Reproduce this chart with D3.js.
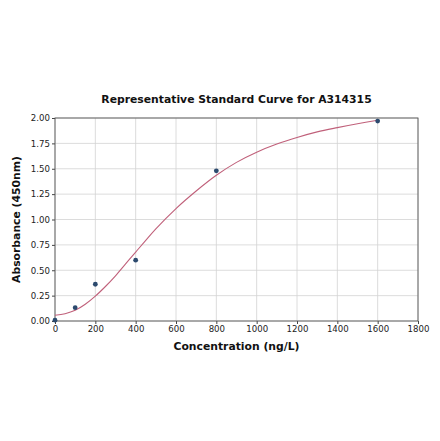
<!DOCTYPE html>
<html>
<head>
<meta charset="utf-8">
<script src="https://cdn.jsdelivr.net/npm/d3@7/dist/d3.min.js"></script>
<style>
  body { margin: 0; background: #fff; }
  svg { display: block; }
</style>
</head>
<body>
<svg id="chart" width="440" height="441"></svg>
<script>
// standard points (concentration, OD)
var stdConc = [0, 100, 200, 400, 800, 1600];
var stdOD   = [0.008, 0.131, 0.362, 0.599, 1.48, 1.97];

// fitted curve
var fitConc = [0, 50, 100, 150, 200, 250, 300, 350, 400, 450, 500, 600, 700, 800, 900, 1000, 1100, 1200, 1300, 1400, 1500, 1600];
var fitOD   = [0.057, 0.072, 0.105, 0.165, 0.245, 0.34, 0.445, 0.562, 0.679, 0.795, 0.908, 1.108, 1.281, 1.436, 1.563, 1.663, 1.743, 1.808, 1.863, 1.905, 1.943, 1.978];

var xTicks = [0, 200, 400, 600, 800, 1000, 1200, 1400, 1600, 1800];
var yTicks = [0, 0.25, 0.5, 0.75, 1.0, 1.25, 1.5, 1.75, 2.0];

var titleText = "Representative Standard Curve for A314315";
var xLabel = "Concentration (ng/L)";
var yLabel = "Absorbance (450nm)";

var svg = d3.select("#chart");
var pLeft = 55, pRight = 418, pTop = 118, pBottom = 321;
var font = "'DejaVu Sans', sans-serif";

var x = d3.scaleLinear().domain([0, 1800]).range([pLeft, pRight]);
var y = d3.scaleLinear().domain([0, 2]).range([pBottom, pTop]);

// grid
svg.append("g").selectAll("line").data(xTicks).enter().append("line")
  .attr("x1", function(d){ return x(d); }).attr("x2", function(d){ return x(d); })
  .attr("y1", pTop).attr("y2", pBottom)
  .attr("stroke", "#d3d3d3").attr("stroke-width", 0.8);
svg.append("g").selectAll("line").data(yTicks).enter().append("line")
  .attr("y1", function(d){ return y(d); }).attr("y2", function(d){ return y(d); })
  .attr("x1", pLeft).attr("x2", pRight)
  .attr("stroke", "#d3d3d3").attr("stroke-width", 0.8);

// axes
var xAxis = svg.append("g").attr("transform", "translate(0," + pBottom + ")")
  .call(d3.axisBottom(x).tickValues(xTicks).tickSize(3).tickPadding(2).tickFormat(d3.format("d")));
var yAxis = svg.append("g").attr("transform", "translate(" + pLeft + ",0)")
  .call(d3.axisLeft(y).tickValues(yTicks).tickSize(3).tickPadding(2).tickFormat(d3.format(".2f")));
[xAxis, yAxis].forEach(function(a){
  a.select(".domain").remove();
  a.selectAll("line").attr("stroke", "#444");
  a.selectAll("text").attr("fill", "#222").style("font-family", font).style("font-size", "8.6px");
});

// frame
svg.append("rect")
  .attr("x", pLeft).attr("y", pTop)
  .attr("width", pRight - pLeft).attr("height", pBottom - pTop)
  .attr("fill", "none").attr("stroke", "#555").attr("stroke-width", 0.9);

// fit line
var line = d3.line()
  .x(function(d){ return x(d[0]); })
  .y(function(d){ return y(d[1]); })
  .curve(d3.curveCatmullRom);
svg.append("path")
  .datum(fitConc.map(function(c, i){ return [c, fitOD[i]]; }))
  .attr("d", line)
  .attr("fill", "none")
  .attr("stroke", "#c0607a")
  .attr("stroke-width", 1.1);

// points
svg.append("g").selectAll("circle").data(stdConc).enter().append("circle")
  .attr("cx", function(d){ return x(d); })
  .attr("cy", function(d, i){ return y(stdOD[i]); })
  .attr("r", 2.4)
  .attr("fill", "#2c4a6e");

// titles
svg.append("text")
  .attr("x", (pLeft + pRight) / 2).attr("y", 103)
  .attr("text-anchor", "middle")
  .style("font-family", font).style("font-weight", "bold").style("font-size", "10.8px")
  .attr("fill", "#111")
  .text(titleText);
svg.append("text")
  .attr("x", (pLeft + pRight) / 2).attr("y", 350)
  .attr("text-anchor", "middle")
  .style("font-family", font).style("font-weight", "bold").style("font-size", "10.8px")
  .attr("fill", "#111")
  .text(xLabel);
svg.append("text")
  .attr("transform", "translate(20," + ((pTop + pBottom) / 2) + ") rotate(-90)")
  .attr("text-anchor", "middle")
  .style("font-family", font).style("font-weight", "bold").style("font-size", "10.8px")
  .attr("fill", "#111")
  .text(yLabel);
</script>
</body>
</html>
